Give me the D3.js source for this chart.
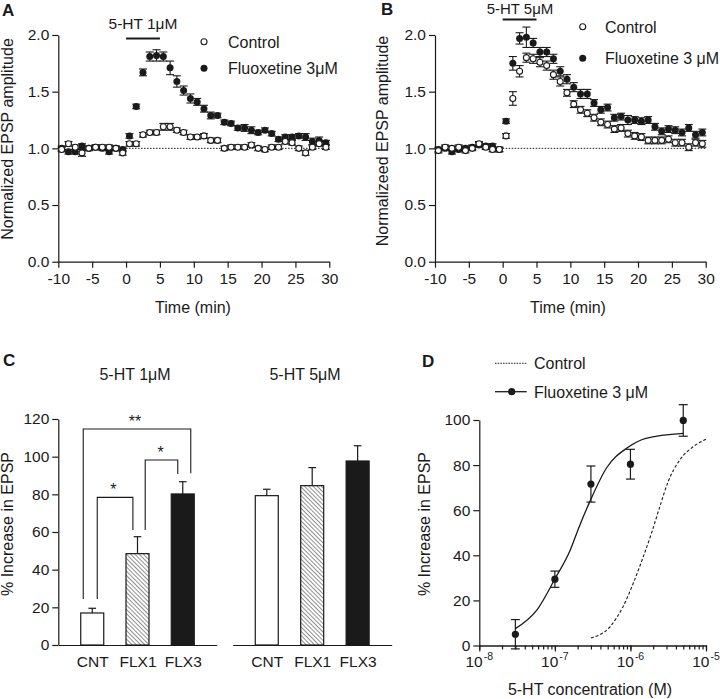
<!DOCTYPE html>
<html><head><meta charset="utf-8">
<script src="https://cdn.jsdelivr.net/npm/d3@7"></script>
<style>
body{margin:0;background:#fff;}
svg{display:block;}
</style></head><body>
<svg id="chart" width="720" height="699"></svg>
<script>
// ---------------- DATA ----------------
const timePoints = [-9.5,-8.5,-7.5,-6.5,-5.5,-4.5,-3.5,-2.5,-1.5,-0.5,
  0.5,1.5,2.5,3.5,4.5,5.5,6.5,7.5,8.5,9.5,
  10.5,11.5,12.5,13.5,14.5,15.5,16.5,17.5,18.5,19.5,
  20.5,21.5,22.5,23.5,24.5,25.5,26.5,27.5,28.5,29.5];
const aControl = [0.99,1.04,1.01,0.96,1.00,1.01,1.01,1.01,1.00,0.96,
  1.04,1.04,1.12,1.14,1.14,1.19,1.19,1.16,1.14,1.10,
  1.10,1.11,1.07,1.07,1.00,1.01,1.01,1.01,1.03,1.00,
  0.99,1.01,1.01,1.06,1.05,1.00,0.96,1.01,1.04,1.01];
const aControlErr = [0.02,0.02,0.02,0.03,0.02,0.02,0.02,0.02,0.02,0.02,
  0.02,0.02,0.02,0.02,0.02,0.03,0.03,0.02,0.02,0.02,
  0.02,0.02,0.02,0.02,0.02,0.02,0.02,0.02,0.02,0.02,
  0.02,0.02,0.02,0.02,0.02,0.02,0.02,0.02,0.02,0.02];
const aFluox = [1.00,0.97,0.97,1.02,1.00,1.01,1.00,0.97,1.00,0.99,
  1.11,1.37,1.67,1.81,1.82,1.81,1.71,1.59,1.51,1.44,
  1.41,1.35,1.29,1.29,1.23,1.22,1.18,1.18,1.16,1.14,
  1.16,1.13,1.08,1.10,1.10,1.11,1.10,1.06,1.07,1.05];
const aFluoxErr = [0.02,0.02,0.02,0.02,0.02,0.02,0.02,0.02,0.02,0.02,
  0.02,0.02,0.03,0.04,0.05,0.04,0.06,0.05,0.04,0.04,
  0.03,0.03,0.03,0.02,0.02,0.02,0.02,0.03,0.03,0.02,
  0.02,0.02,0.02,0.02,0.02,0.02,0.03,0.03,0.03,0.02];
const bControl = [0.98,1.01,1.00,1.01,0.98,1.00,1.04,1.01,0.99,0.99,
  1.11,1.44,1.68,1.80,1.79,1.76,1.73,1.65,1.59,1.49,
  1.39,1.34,1.31,1.27,1.23,1.21,1.17,1.18,1.13,1.11,
  1.10,1.07,1.07,1.07,1.08,1.05,1.05,1.01,1.05,1.04];
const bControlErr = [0.02,0.02,0.02,0.02,0.02,0.02,0.02,0.02,0.02,0.02,
  0.02,0.06,0.05,0.04,0.04,0.04,0.04,0.04,0.04,0.03,
  0.03,0.03,0.03,0.03,0.03,0.03,0.03,0.03,0.03,0.03,
  0.03,0.03,0.03,0.03,0.03,0.03,0.03,0.03,0.03,0.03];
const bFluox = [0.99,1.00,0.97,0.99,1.00,1.01,1.03,1.02,1.02,0.99,
  1.24,1.75,1.97,1.98,1.93,1.85,1.85,1.79,1.68,1.61,
  1.54,1.48,1.48,1.40,1.34,1.36,1.27,1.28,1.25,1.25,
  1.24,1.25,1.19,1.15,1.17,1.16,1.14,1.18,1.12,1.14];
const bFluoxErr = [0.02,0.02,0.02,0.02,0.02,0.02,0.02,0.02,0.02,0.02,
  0.02,0.06,0.05,0.09,0.04,0.04,0.04,0.04,0.04,0.04,
  0.04,0.04,0.04,0.03,0.03,0.03,0.03,0.03,0.04,0.03,
  0.03,0.03,0.03,0.03,0.03,0.03,0.03,0.03,0.03,0.03];
const timeTicks = [-10,-5,0,5,10,15,20,25,30];
const ampTicks = [0,0.5,1,1.5,2];

const barCategories = ["CNT","FLX1","FLX3"];
const bar1uM = [17, 48.5, 80.2];
const bar1uMErr = [2.5, 9, 6.5];
const bar5uM = [79.3, 84.6, 97.7];
const bar5uMErr = [3.4, 9.6, 8.1];
const pctTicks = [0,20,40,60,80,100,120];

const doseConc = [3e-8, 1e-7, 3e-7, 1e-6, 5e-6];
const doseFluox = [5.0, 29.4, 71.6, 80.4, 99.8];
const doseFluoxErr = [6.5, 3.6, 8.0, 6.6, 7.0];
const fitFluoxConc = [3e-8, 5.8e-8, 1e-7, 1.6e-7, 2.1e-7, 2.9e-7, 4.8e-7, 9.3e-7, 1.6e-6, 5e-6];
const fitFluoxVal  = [7.5, 15.8, 29.5, 42.4, 52.7, 63.8, 78.6, 87.9, 91.9, 94.1];
const fitControlConc = [3e-7, 5.4e-7, 8e-7, 1.09e-6, 1.48e-6, 1.9e-6, 2.45e-6, 3.16e-6, 4.5e-6, 6.8e-6, 1e-5];
const fitControlVal  = [3.3, 8.4, 17.3, 27.6, 39.4, 49.8, 61.6, 72.7, 82.3, 88.2, 91.5];
const concMajor = [1e-8, 1e-7, 1e-6, 1e-5];
const concExps = ["-8","-7","-6","-5"];
const doseTicks = [0,20,40,60,80,100];

// ---------------- DRAW ----------------
const FONT = '"Liberation Sans", Arial, Helvetica, sans-serif';
const INK = "#1a1a1a";
const svg = d3.select("#chart").attr("font-family", FONT);
svg.append("rect").attr("width",720).attr("height",699).attr("fill","#fff");

function styleAxis(g, fs){
  g.attr("font-family", FONT).attr("font-size", fs);
  g.select(".domain").attr("stroke", INK).attr("stroke-width", 1.2);
  g.selectAll(".tick line").attr("stroke", INK).attr("stroke-width", 1.2);
  g.selectAll(".tick text").attr("fill", INK);
}
function txt(x, y, s, opt={}){
  const t = svg.append("text").attr("x",x).attr("y",y).text(s)
    .attr("fill",INK).attr("font-size",opt.fs||16)
    .attr("text-anchor",opt.anchor||"start");
  if(opt.bold) t.attr("font-weight","bold");
  if(opt.rot) t.attr("transform",`rotate(-90,${x},${y})`);
  return t;
}

// time-course panel
function timePanel(xr, ctrl, ctrlErr, flx, flxErr){
  const x = d3.scaleLinear().domain([-10,30]).range(xr);
  const y = d3.scaleLinear().domain([0,2]).range([261.7,35]);
  const g = svg.append("g");
  g.append("g").attr("transform",`translate(0,${y(0)})`)
    .call(d3.axisBottom(x).tickValues(timeTicks).tickFormat(d=>String(d)).tickSize(6).tickSizeOuter(0).tickPadding(5))
    .call(a=>styleAxis(a,15.5));
  g.append("g").attr("transform",`translate(${x(-10)},0)`)
    .call(d3.axisLeft(y).tickValues(ampTicks).tickFormat(d3.format(".1f")).tickSize(6).tickSizeOuter(0).tickPadding(3))
    .call(a=>styleAxis(a,15.5));
  g.append("line").attr("x1",x(0)).attr("x2",x(30)).attr("y1",y(1)).attr("y2",y(1))
    .attr("stroke",INK).attr("stroke-width",1).attr("stroke-dasharray","1.5,1.5");
  function series(vals, errs, filled){
    const s = g.append("g");
    timePoints.forEach((t,i)=>{
      const cx = x(t), v = vals[i], e = errs[i];
      s.append("line").attr("x1",cx).attr("x2",cx).attr("y1",y(v-e)).attr("y2",y(v+e)).attr("stroke",INK).attr("stroke-width",1.1);
      [v-e, v+e].forEach(b=>s.append("line").attr("x1",cx-4).attr("x2",cx+4).attr("y1",y(b)).attr("y2",y(b)).attr("stroke",INK).attr("stroke-width",1.1));
    });
    s.selectAll("circle").data(timePoints).join("circle")
      .attr("cx",d=>x(d)).attr("cy",(d,i)=>y(vals[i]))
      .attr("r", filled?3.5:3)
      .attr("fill", filled?INK:"#fff")
      .attr("stroke", INK).attr("stroke-width", filled?0:1.1);
  }
  series(flx, flxErr, true);
  series(ctrl, ctrlErr, false);
  return {x,y};
}

// Panel A
const A = timePanel([58.3,329.3], aControl, aControlErr, aFluox, aFluoxErr);
txt(2, 16, "A", {bold:true, fs:17});
svg.append("line").attr("x1",A.x(0)).attr("x2",A.x(5)).attr("y1",38.5).attr("y2",38.5).attr("stroke",INK).attr("stroke-width",2.2);
txt(143, 29, "5-HT 1μM", {anchor:"middle", fs:15.5});
svg.append("circle").attr("cx",204).attr("cy",41.7).attr("r",3).attr("fill","#fff").attr("stroke",INK).attr("stroke-width",1.1);
txt(228, 47.5, "Control");
svg.append("circle").attr("cx",204).attr("cy",68.3).attr("r",3.5).attr("fill",INK);
txt(228, 74, "Fluoxetine 3μM");
txt(13, 139, "Normalized EPSP amplitude", {rot:true, anchor:"middle"});
txt(193, 313, "Time (min)", {anchor:"middle"});

// Panel B
const B = timePanel([435,705.7], bControl, bControlErr, bFluox, bFluoxErr);
txt(381, 15, "B", {bold:true, fs:17});
svg.append("line").attr("x1",B.x(0)).attr("x2",B.x(5)).attr("y1",19.5).attr("y2",19.5).attr("stroke",INK).attr("stroke-width",2.2);
txt(520, 13.5, "5-HT 5μM", {anchor:"middle", fs:15});
svg.append("circle").attr("cx",582.7).attr("cy",26.7).attr("r",3).attr("fill","#fff").attr("stroke",INK).attr("stroke-width",1.1);
txt(605, 32.5, "Control");
svg.append("circle").attr("cx",582.7).attr("cy",58.3).attr("r",3.5).attr("fill",INK);
txt(605, 64, "Fluoxetine 3 μM");
txt(388, 141, "Normalizeed EPSP amplitude", {rot:true, anchor:"middle"});
txt(568, 313, "Time (min)", {anchor:"middle"});

// Panel C
const defs = svg.append("defs");
const pat = defs.append("pattern").attr("id","hatch").attr("patternUnits","userSpaceOnUse")
  .attr("width",3).attr("height",3).attr("patternTransform","rotate(-45)");
pat.append("rect").attr("width",3).attr("height",3).attr("fill","#fff");
pat.append("line").attr("x1",0).attr("x2",0).attr("y1",0).attr("y2",3).attr("stroke","#333").attr("stroke-width",1.1);

const yC = d3.scaleLinear().domain([0,120]).range([645,419]);
const barFills = ["#fff","url(#hatch)",INK];
function barGroup(range, vals, errs){
  const xs = d3.scalePoint().domain(barCategories).range(range).padding(0.75);
  svg.append("g").attr("transform",`translate(0,${yC(0)})`)
    .call(d3.axisBottom(xs).tickSize(0).tickPadding(11))
    .call(a=>styleAxis(a,15.5));
  const g = svg.append("g");
  barCategories.forEach((c,i)=>{
    const cx = xs(c);
    g.append("line").attr("x1",cx).attr("x2",cx).attr("y1",yC(vals[i])).attr("y2",yC(vals[i]+errs[i])).attr("stroke",INK).attr("stroke-width",1.2);
    g.append("line").attr("x1",cx-3.8).attr("x2",cx+3.8).attr("y1",yC(vals[i]+errs[i])).attr("y2",yC(vals[i]+errs[i])).attr("stroke",INK).attr("stroke-width",1.2);
    g.append("rect").attr("x",cx-11.5).attr("width",23).attr("y",yC(vals[i])).attr("height",yC(0)-yC(vals[i]))
      .attr("fill",barFills[i]).attr("stroke",INK).attr("stroke-width",1.2);
  });
  return xs;
}
const xC1 = barGroup([58.3,216.7], bar1uM, bar1uMErr);
const xC2 = barGroup([232.7,391.7], bar5uM, bar5uMErr);
svg.append("g").attr("transform",`translate(58.3,0)`)
  .call(d3.axisLeft(yC).tickValues(pctTicks).tickSize(6).tickSizeOuter(0).tickPadding(3))
  .call(a=>styleAxis(a,15.5));
txt(3, 366, "C", {bold:true, fs:17});
txt(135, 380, "5-HT 1μM", {anchor:"middle"});
txt(305, 380, "5-HT 5μM", {anchor:"middle"});
txt(13, 524, "% Increase in EPSP", {rot:true, anchor:"middle"});
function bracket(xl, xr, top, botL, botR){
  svg.append("path").attr("d",`M${xl},${yC(botL)}V${yC(top)}H${xr}V${yC(botR)}`)
    .attr("fill","none").attr("stroke",INK).attr("stroke-width",1.1);
}
bracket(xC1("CNT")-9, xC1("FLX3")+8, 114.7, 24.4, 91.2);
bracket(xC1("CNT")+5, xC1("FLX1")-4.6, 78.4, 24.4, 61);
bracket(xC1("FLX1")+7.7, xC1("FLX3")-5, 98.2, 61, 90.8);
txt(135, 427, "**", {anchor:"middle", fs:16});
txt(113.3, 495, "*", {anchor:"middle", fs:16});
txt(160.7, 458, "*", {anchor:"middle", fs:16});

// Panel D
const xD = d3.scaleLog().domain([1e-8,1e-5]).range([479.3,706]);
const yD = d3.scaleLinear().domain([0,100]).range([645.5,420]);
svg.append("g").attr("transform",`translate(0,${yD(0)})`)
  .call(d3.axisBottom(xD).tickValues(xD.ticks()).tickFormat("").tickSize(4).tickSizeOuter(0))
  .call(a=>styleAxis(a,15.5));
svg.append("g").attr("transform",`translate(0,${yD(0)})`)
  .call(d3.axisBottom(xD).tickValues(concMajor).tickFormat("").tickSize(6).tickSizeOuter(0))
  .call(a=>styleAxis(a,15.5));
concMajor.forEach((c,i)=>{
  const t = svg.append("text").attr("x",xD(c)).attr("y",667).attr("text-anchor","middle")
    .attr("fill",INK).attr("font-size",15.5);
  t.append("tspan").text("10");
  t.append("tspan").text(concExps[i]).attr("font-size",10.5).attr("dy",-7).attr("dx",1);
});
svg.append("g").attr("transform",`translate(${xD(1e-8)},0)`)
  .call(d3.axisLeft(yD).tickValues(doseTicks).tickSize(6).tickSizeOuter(0).tickPadding(3))
  .call(a=>styleAxis(a,15.5));
const lineD = d3.line().x(d=>xD(d[0])).y(d=>yD(d[1])).curve(d3.curveMonotoneX);
svg.append("path").attr("d",lineD(fitFluoxConc.map((c,i)=>[c,fitFluoxVal[i]])))
  .attr("fill","none").attr("stroke",INK).attr("stroke-width",1.3);
svg.append("path").attr("d",lineD(fitControlConc.map((c,i)=>[c,fitControlVal[i]])))
  .attr("fill","none").attr("stroke",INK).attr("stroke-width",1.1).attr("stroke-dasharray","3,2");
doseConc.forEach((c,i)=>{
  const cx = xD(c), v = doseFluox[i], e = doseFluoxErr[i];
  svg.append("line").attr("x1",cx).attr("x2",cx).attr("y1",yD(v-e)).attr("y2",yD(v+e)).attr("stroke",INK).attr("stroke-width",1.2);
  [v-e,v+e].forEach(b=>svg.append("line").attr("x1",cx-4.5).attr("x2",cx+4.5).attr("y1",yD(b)).attr("y2",yD(b)).attr("stroke",INK).attr("stroke-width",1.2));
  svg.append("circle").attr("cx",cx).attr("cy",yD(v)).attr("r",3.6).attr("fill",INK);
});
txt(422, 367, "D", {bold:true, fs:17});
svg.append("line").attr("x1",495).attr("x2",526.7).attr("y1",363.3).attr("y2",363.3).attr("stroke",INK).attr("stroke-width",1.1).attr("stroke-dasharray","1.5,1.2");
txt(534, 369, "Control");
svg.append("line").attr("x1",495).attr("x2",526.7).attr("y1",391.7).attr("y2",391.7).attr("stroke",INK).attr("stroke-width",1.3);
svg.append("circle").attr("cx",511.7).attr("cy",391.7).attr("r",3.6).attr("fill",INK);
txt(534, 397.5, "Fluoxetine 3 μM");
txt(430, 524, "% Increase in EPSP", {rot:true, anchor:"middle"});
txt(590, 695, "5-HT concentration (M)", {anchor:"middle"});
</script>
</body></html>
